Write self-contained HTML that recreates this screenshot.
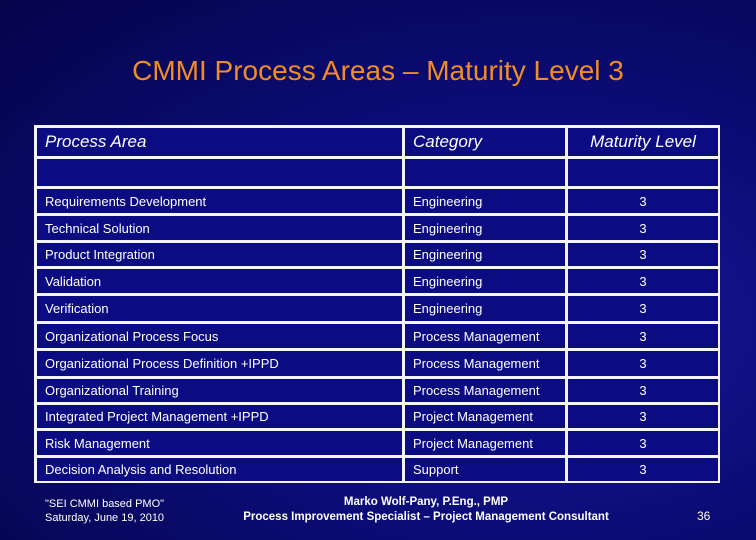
<!DOCTYPE html>
<html><head><meta charset="utf-8"><style>
html,body{margin:0;padding:0}
body{width:756px;height:540px;position:relative;overflow:hidden;font-family:"Liberation Sans",sans-serif;
background:radial-gradient(ellipse at 70% 60%,#1a1a9a 0%,#0c0c78 45%,#04044a 100%);}
.t{position:absolute;color:#fff;white-space:nowrap}
#tbl{position:absolute;left:34px;top:125px;width:686px;height:358px;background:#f4f4f8}
.c{position:absolute;background:#0b0b82;color:#fff;font-size:13px;box-sizing:border-box;padding-left:8px;display:flex;align-items:center;white-space:nowrap}
.h{font-style:italic;font-size:17px;align-items:flex-start;padding-top:4px}
</style></head><body>
<div class="t" style="left:0;width:756px;text-align:center;top:55px;font-size:28px;color:#f08c28">CMMI Process Areas – Maturity Level 3</div>
<div id="tbl"></div>
<div class="t" style="left:45px;top:497px;font-size:11px;line-height:14px">"SEI CMMI based PMO"<br>Saturday, June 19, 2010</div>
<div class="t" style="left:236px;top:495px;font-size:11.5px;font-weight:bold;text-align:center;line-height:15px;width:380px">Marko Wolf-Pany, P.Eng., PMP<br>Process Improvement Specialist – Project Management Consultant</div>
<div class="t" style="left:697px;top:509px;font-size:12px">36</div>
<script>
const areas=["Process Area","","Requirements Development","Technical Solution","Product Integration","Validation","Verification","Organizational Process Focus","Organizational Process Definition +IPPD","Organizational Training","Integrated Project Management +IPPD","Risk Management","Decision Analysis and Resolution"];
const cats=["Category","","Engineering","Engineering","Engineering","Engineering","Engineering","Process Management","Process Management","Process Management","Project Management","Project Management","Support"];
const levels=["Maturity Level","","3","3","3","3","3","3","3","3","3","3","3"];
const ys=[126,157,187,214,241,267,294,322,349,377,403,429,456,482];
const xs=[35,403,566,719];
const tbl=document.getElementById('tbl');
const cols=[areas,cats,levels];
for(let r=0;r<areas.length;r++){for(let c=0;c<3;c++){
 const d=document.createElement('div');
 d.className='c'+(r===0?' h':'');
 
 
 const x0=xs[c]+2,x1=xs[c+1]-1,y0=ys[r]+2,y1=ys[r+1]-1;
 d.style.left=(x0-34)+'px';d.style.top=(y0-125)+'px';d.style.width=(x1-x0)+'px';d.style.height=(y1-y0)+'px';
 if(c===2){d.style.justifyContent='center';d.style.paddingLeft='0';}
 d.textContent=cols[c][r];
 tbl.appendChild(d);
}}
</script>
</body></html>
